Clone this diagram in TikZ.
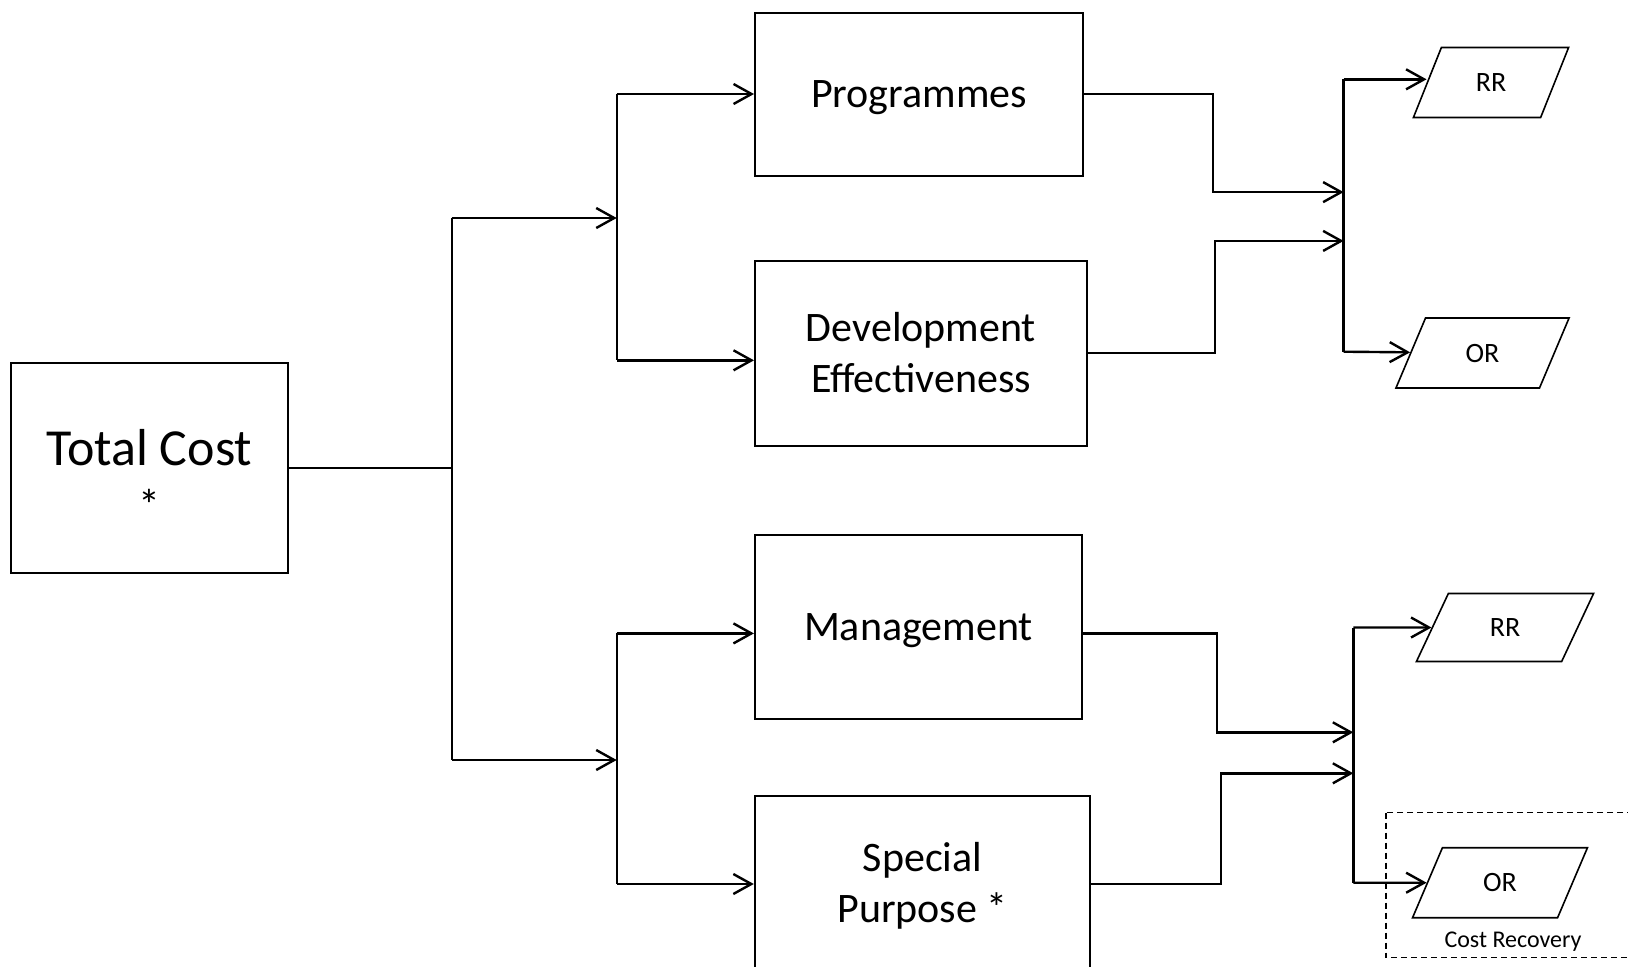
\documentclass[tikz,border=0pt]{standalone}
\usepackage{fontspec}
\setmainfont{Carlito}
\usetikzlibrary{arrows.meta,shapes.geometric}

\begin{document}
\begin{tikzpicture}[x=0.5pt,y=-0.5pt,
        >={Straight Barb[length=9pt,width=10pt]},
        box/.style={draw, line width=1pt, align=center, inner sep=0pt,
            font=\fontsize{21}{25.5}\selectfont},
        para/.style={draw, line width=0.8pt, trapezium, trapezium left angle=64.5,
            trapezium right angle=115.5, trapezium stretches=true, inner sep=0pt,
            minimum height=35pt, font=\fontsize{14}{17}\selectfont},
        conn/.style={line width=1.2pt}]

        \useasboundingbox (0,0) rectangle (1628,966);

        % cost blocks
        \node[box, minimum width=138.8pt, minimum height=104.7pt,
            font=\fontsize{26}{27.5}\selectfont] (total) at (149.5,468)
            {\rule{0pt}{25pt}Total Cost\\{\fontsize{22}{27.5}\selectfont *}};
        \node[box, minimum width=164pt, minimum height=81.5pt, text depth=0pt] (prog) at (919,94) {Programmes};
        \node[box, minimum width=166pt, minimum height=92.5pt] (dev) at (921,353) {Development\\Effectiveness};
        \node[box, minimum width=163.5pt, minimum height=92pt, text depth=0pt] (mgmt) at (918.4,626.6) {Management};
        \node[box, minimum width=167.7pt, minimum height=88pt, text depth=1.5pt] (spec) at (922.5,884) {Special\\Purpose *};

        % resources
        \node[para, minimum width=77.7pt] (rrup) at (1491,82.5) {RR};
        \node[para, minimum width=86.6pt] (orup) at (1482.5,353) {OR};
        \node[para, minimum width=88.7pt, minimum height=34pt] (rrlow) at (1505,627.5) {RR};
        \node[para, minimum width=87.5pt] (orlow) at (1500,882.7) {OR};

        % cost recovery frame
        \draw[dashed, dash pattern=on 3pt off 2pt, line width=0.7pt] (1386,812.7) rectangle (1660,957.3);
        \node[font=\fontsize{12}{14}\selectfont] (crlabel) at (1513,941.7) {Cost Recovery};

        % split points
        \coordinate (ja) at (451.7,218);
        \coordinate (jb) at (451.7,760);
        \coordinate (ka) at (616.7,218);
        \coordinate (kb) at (616.7,760);
        \coordinate (devin) at (0,360.3);
        \coordinate (mrow) at (0,633.4);

        \draw[conn] (total.east) -- (total.east -| ja);
        \draw[conn] (ja) -- (jb);
        \draw[conn,->] (ja) -- (ka);
        \draw[conn,->] (jb) -- (kb);

        \draw[conn] (ka |- prog.west) -- (ka |- devin);
        \draw[conn,->] (ka |- prog.west) -- (prog.west);
        \draw[conn,->] (ka |- devin) -- (devin -| dev.west);

        \draw[conn] (kb |- mrow) -- (kb |- spec.west);
        \draw[conn,->] (kb |- mrow) -- (mrow -| mgmt.west);
        \draw[conn,->] (kb |- spec.west) -- (spec.west);

        % upper right
        \coordinate (rtop) at (1343.6,79.3);
        \coordinate (rbot) at (1343.6,351.7);
        \coordinate (a1) at (1212.7,192.1);
        \coordinate (a2) at (1214.8,240.9);
        \draw[conn] (rtop) -- (rbot);
        \draw[conn,->] (prog.east) -| (a1) -- (a1 -| rtop);
        \draw[conn,->] (dev.east) -| (a2) -- (a2 -| rtop);
        \draw[conn,->] (rtop) -- (rtop -| rrup.west);
        \draw[conn,->] (rbot) -- (orup);

        % lower right
        \coordinate (stop) at (1353.3,627.5);
        \coordinate (sbot) at (1353.3,882.7);
        \coordinate (a3) at (1216.9,732.3);
        \coordinate (a4) at (1221,773.3);
        \draw[conn] (stop) -- (sbot);
        \draw[conn,->] (mrow -| mgmt.east) -| (a3) -- (a3 -| stop);
        \draw[conn,->] (spec.east) -| (a4) -- (a4 -| stop);
        \draw[conn,->] (stop) -- (rrlow);
        \draw[conn,->] (sbot) -- (orlow);

\end{tikzpicture}
\end{document}
